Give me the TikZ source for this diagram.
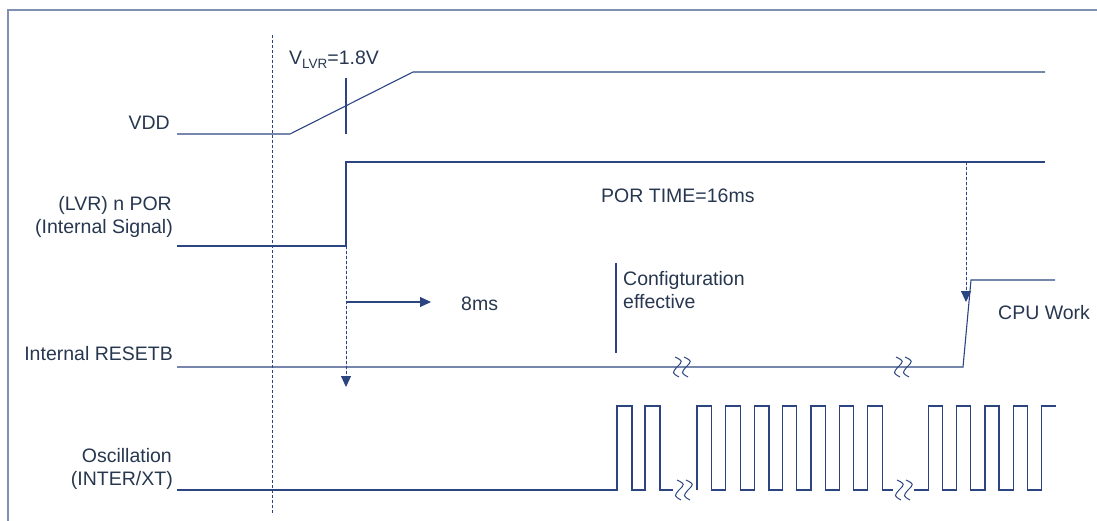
\documentclass[tikz,border=0pt]{standalone}
\usepackage{fontspec}
\setmainfont{Liberation Sans}
\usetikzlibrary{arrows.meta}
\definecolor{sigc}{HTML}{2C4580}
\definecolor{framec}{HTML}{7F90B0}
\definecolor{txtc}{HTML}{27374F}
\tikzset{
  sig/.style={draw=sigc, line width=1.1pt, line join=miter},
  frm/.style={draw=framec, line width=1.6pt},
  dsh/.style={draw=sigc, line width=1pt, dash pattern=on 3pt off 2pt},
  tip/.style={-{Triangle[length=11pt,width=10pt]}},
  lbl/.style={inner sep=0pt, text=txtc, font=\fontsize{19.5}{23}\selectfont},
  brkmark/.pic={
    \draw[sig, line width=1pt] (-6,-10) .. controls (2,-6) .. (-4,0) .. controls (-9,6) .. (-2,10);
    \draw[sig, line width=1pt] (3,-10) .. controls (11,-6) .. (5,0) .. controls (0,6) .. (7,10);
  }
}
\begin{document}
\begin{tikzpicture}[x=1pt,y=-1pt]
\useasboundingbox (0,0) rectangle (1097,521);
% frame
\draw[frm] (8,521) -- (8,10) -- (1097,10);
% reference dashed line
\coordinate (d1a) at (272,35);
\coordinate (d1b) at (272,515);
\draw[dsh] (d1a) -- (d1b);
% labels on the left
\node[lbl, anchor=base east] (vddl) at (170,130) {VDD};
\node[lbl, anchor=base east] (porl1) at (172,211) {(LVR) n POR};
\node[lbl, anchor=base east] (porl2) at (173,234) {(Internal Signal)};
\node[lbl, anchor=base east] (rstl) at (173,360) {Internal RESETB};
\node[lbl, anchor=base east] (oscl1) at (172,462) {Oscillation};
\node[lbl, anchor=base east] (oscl2) at (173,485) {(INTER/XT)};
% VDD
\draw[sig] (177,134) -- (290,134) -- (413,72) -- (1045,72);
\coordinate (tka) at (346,78);
\coordinate (tkb) at (346,134);
\draw[sig] (tka) -- (tkb);
\node[lbl, anchor=base west] (vlvr) at (289,65) {V\raisebox{-4pt}{\fontsize{13.5}{13}\selectfont LVR}=1.8V};
% nPOR
\draw[sig] (177,246) -- (346,246) -- (346,162) -- (1045,162);
\node[lbl, anchor=base west] (portime) at (601,203) {POR TIME=16ms};
% dashed arrow from nPOR edge
\coordinate (a1s) at (346,246);
\coordinate (a1e) at (346,387);
\draw[dsh, tip, fill=sigc] (a1s) -- (a1e);
% 8ms arrow
\coordinate (a2s) at (346,302);
\coordinate (a2e) at (431,302);
\draw[sig, tip, fill=sigc] (a2s) -- (a2e);
\node[lbl, anchor=base west] (ms8) at (461,310) {8ms};
% configuration
\coordinate (cfa) at (616,263);
\coordinate (cfb) at (616,353);
\draw[sig] (cfa) -- (cfb);
\node[lbl, anchor=base west] (cfg1) at (623,285) {Configturation};
\node[lbl, anchor=base west] (cfg2) at (623,308) {effective};
% RESETB
\draw[sig] (177,367) -- (963,367) -- (971,280) -- (1055,280);
\pic at (681,367) {brkmark};
\pic at (902,367) {brkmark};
\node[lbl, anchor=base west] (cpu) at (998,319) {CPU Work};
% dashed arrow to RESETB
\coordinate (a3s) at (966,162);
\coordinate (a3e) at (966,302);
\draw[dsh, tip, fill=sigc] (a3s) -- (a3e);
% Oscillation
\draw[sig] (177,490) -- (617,490) -- (617,406) -- (632,406) -- (632,490) -- (645,490) -- (645,406) -- (660,406) -- (660,490) -- (673,490);
\draw[sig] (697,490) -- (697,406) -- (711.5,406) -- (711.5,490)
  -- (725.7,490) -- (725.7,406) -- (740.5,406) -- (740.5,490)
  -- (754.3,490) -- (754.3,406) -- (769,406) -- (769,490)
  -- (782.7,490) -- (782.7,406) -- (796.7,406) -- (796.7,490)
  -- (811,490) -- (811,406) -- (825.7,406) -- (825.7,490)
  -- (839.3,490) -- (839.3,406) -- (853.3,406) -- (853.3,490)
  -- (867.3,490) -- (867.3,406) -- (882.3,406) -- (882.3,490) -- (893,490);
\draw[sig] (914,490) -- (928.3,490) -- (928.3,406) -- (942.3,406) -- (942.3,490)
  -- (956.7,490) -- (956.7,406) -- (970.7,406) -- (970.7,490)
  -- (985,490) -- (985,406) -- (999,406) -- (999,490)
  -- (1013.3,490) -- (1013.3,406) -- (1027.3,406) -- (1027.3,490)
  -- (1041.7,490) -- (1041.7,406) -- (1055.7,406);
\pic at (683,490) {brkmark};
\pic at (903,490) {brkmark};
\end{tikzpicture}
\end{document}
